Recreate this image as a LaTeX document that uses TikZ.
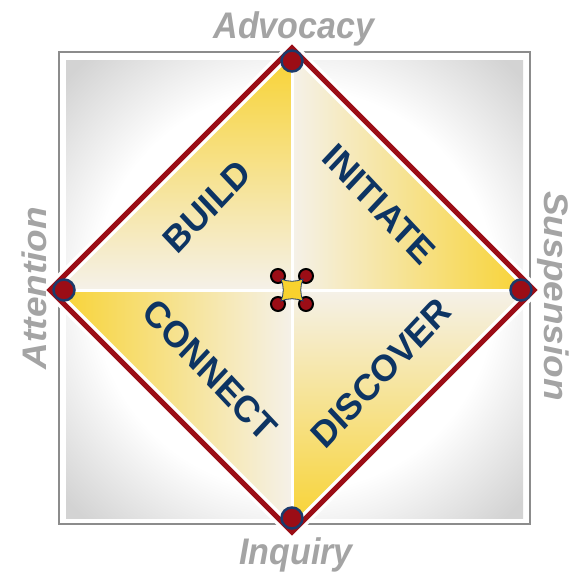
\documentclass[tikz,border=0pt]{standalone}
\usepackage{fontspec}
\setmainfont{Liberation Sans}
\usetikzlibrary{positioning,calc}

\definecolor{FrameGray}{HTML}{8C8C8C}
\definecolor{PanelGray}{HTML}{D3D3D3}
\definecolor{LabelGray}{HTML}{A4A4A4}
\definecolor{DiamondRed}{HTML}{9B0D16}
\definecolor{DotNavy}{HTML}{1B3A6B}
\definecolor{WordNavy}{HTML}{0D3463}
\definecolor{QuadYellow}{HTML}{F8D22E}
\definecolor{QuadCream}{HTML}{F5F1E9}
\pgfdeclareradialshading{PanelGlow}{\pgfpoint{0bp}{0bp}}{color(0bp)=(white); color(22bp)=(white); color(34bp)=(PanelGray); color(50bp)=(PanelGray)}

\begin{document}
\begin{tikzpicture}[x=1pt,y=-1pt,
				label word/.style={font=\bfseries\itshape\fontsize{37}{37}\selectfont, text=LabelGray, inner sep=0pt, xscale=0.92},
				quad word/.style={font=\bfseries\fontsize{37}{37}\selectfont, text=WordNavy, inner sep=0pt, xscale=0.94},
				vertex dot/.style={circle, fill=DiamondRed, draw=DotNavy, line width=2.5pt, minimum size=21pt, inner sep=0pt},
				hub dot/.style={circle, fill=DiamondRed, draw=black, line width=2pt, minimum size=14pt, inner sep=0pt}
				]
				\useasboundingbox (0,0) rectangle (571,575);
				\pgfmathsetmacro{\HubOffset}{14}
				\coordinate (CenterPoint) at (292,290);
				\coordinate (TopPoint) at (292,48);
				\coordinate (RightPoint) at (534,290);
				\coordinate (BottomPoint) at (292,532);
				\coordinate (LeftPoint) at (50,290);
				% frame and glowing panel
				\draw[FrameGray, line width=1.5pt] (59,52) rectangle (530,524);
				\shade[shading=PanelGlow] (66,61) rectangle (523,518);
				% the four quadrants
				\shade[top color=QuadYellow, bottom color=QuadCream] (LeftPoint) -- (TopPoint) -- (CenterPoint) -- cycle;
				\shade[left color=QuadCream, right color=QuadYellow] (TopPoint) -- (RightPoint) -- (CenterPoint) -- cycle;
				\shade[left color=QuadYellow, right color=QuadCream] (LeftPoint) -- (CenterPoint) -- (BottomPoint) -- cycle;
				\shade[top color=QuadCream, bottom color=QuadYellow] (CenterPoint) -- (RightPoint) -- (BottomPoint) -- cycle;
				\draw[white, line width=3pt] (LeftPoint) -- (RightPoint);
				\draw[white, line width=3pt] (TopPoint) -- (BottomPoint);
				% diamond outline
				\draw[white, line width=12pt, line join=miter] (TopPoint) -- (RightPoint) -- (BottomPoint) -- (LeftPoint) -- cycle;
				\draw[DiamondRed, line width=5pt, line join=miter] (TopPoint) -- (RightPoint) -- (BottomPoint) -- (LeftPoint) -- cycle;
				\node[vertex dot] (TopDot) at (292,61) {};
				\node[vertex dot] (RightDot) at (521,290) {};
				\node[vertex dot] (BottomDot) at (292,518) {};
				\node[vertex dot] (LeftDot) at (64,290) {};
				% hub in the middle
				\foreach \dx/\dy in {-1/-1, 1/-1, 1/1, -1/1} {
					\node[hub dot] at ($(CenterPoint)+(\dx*\HubOffset,\dy*\HubOffset)$) {};
				}
				\filldraw[fill=QuadYellow, draw=DotNavy, line width=0.8pt] (281,279) .. controls (288,282) and (296,282) .. (303,279) .. controls (300,286) and (300,294) .. (303,301) .. controls (296,298) and (288,298) .. (281,301) .. controls (284,294) and (284,286) .. (281,279) -- cycle;
				% words
				\node[quad word, rotate=45] (BuildWord) at (207,207) {BUILD};
				\node[quad word, rotate=-45] (InitiateWord) at (379,204) {INITIATE};
				\node[quad word, rotate=-45] (ConnectWord) at (210,370) {CONNECT};
				\node[quad word, rotate=45] (DiscoverWord) at (381,373) {DISCOVER};
				\node[label word, anchor=base] (AdvocacyLabel) at (294,39) {Advocacy};
				\node[label word, anchor=base] (InquiryLabel) at (296,564) {Inquiry};
				\node[label word, anchor=base, rotate=90] (AttentionLabel) at (46,288) {Attention};
				\node[label word, anchor=base, rotate=-90] (SuspensionLabel) at (544,296) {Suspension};
			\end{tikzpicture}
\end{document}
